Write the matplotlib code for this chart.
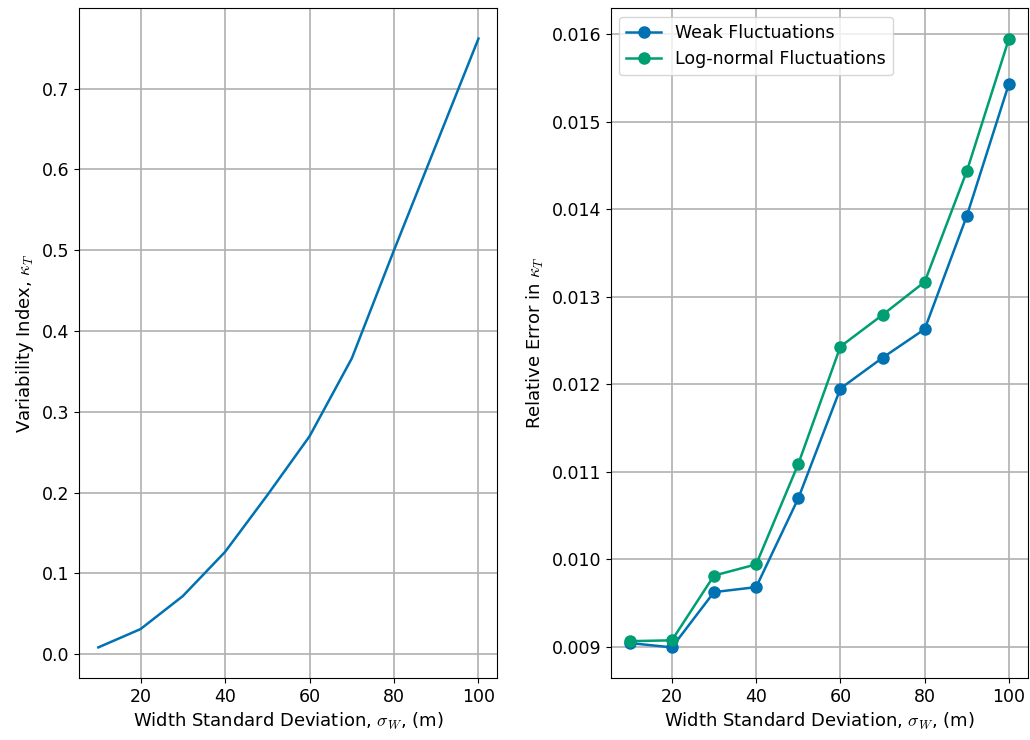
import numpy as np
import matplotlib.pyplot as plt

sigma_w = [10, 20, 30, 40, 50, 60, 70, 80, 90, 100]
kappa_t = [0.0083, 0.031, 0.0718, 0.1265, 0.1967, 0.2696, 0.366, 0.500, 0.631, 0.762]
err_weak = [0.00904, 0.00899, 0.009622, 0.009679, 0.010694, 0.011949,
            0.012301, 0.012628, 0.013923, 0.015434]
err_lognormal = [0.009061, 0.009071, 0.009811, 0.009939, 0.011087, 0.012429,
                 0.012791, 0.013168, 0.014434, 0.015949]

blue = "#0072B2"
green = "#009E73"

plt.rcParams["font.size"] = 12
plt.rcParams["mathtext.fontset"] = "cm"
fig = plt.figure(figsize=(10.3, 7.4), dpi=100)
ax1 = fig.add_axes([0.077, 0.084, 0.406, 0.905])
ax2 = fig.add_axes([0.593, 0.084, 0.405, 0.905])

ax1.plot(sigma_w, kappa_t, color=blue, lw=1.8)
ax1.set_xlabel(r"Width Standard Deviation, $\sigma_W$, (m)", fontsize=13)
ax1.set_ylabel(r"Variability Index, $\kappa_T$", fontsize=13)

ax2.plot(sigma_w, err_weak, "o-", color=blue, lw=1.8, ms=8, label="Weak Fluctuations")
ax2.plot(sigma_w, err_lognormal, "o-", color=green, lw=1.8, ms=8, label="Log-normal Fluctuations")
ax2.set_xlabel(r"Width Standard Deviation, $\sigma_W$, (m)", fontsize=13)
ax2.set_ylabel(r"Relative Error in $\kappa_T$", fontsize=13)
ax2.legend(loc="upper left", fontsize=12.5)

for ax in (ax1, ax2):
    ax.grid(True, color="#b0b0b0", lw=1.2)
    ax.tick_params(labelsize=12.5)

plt.savefig("out.png")
